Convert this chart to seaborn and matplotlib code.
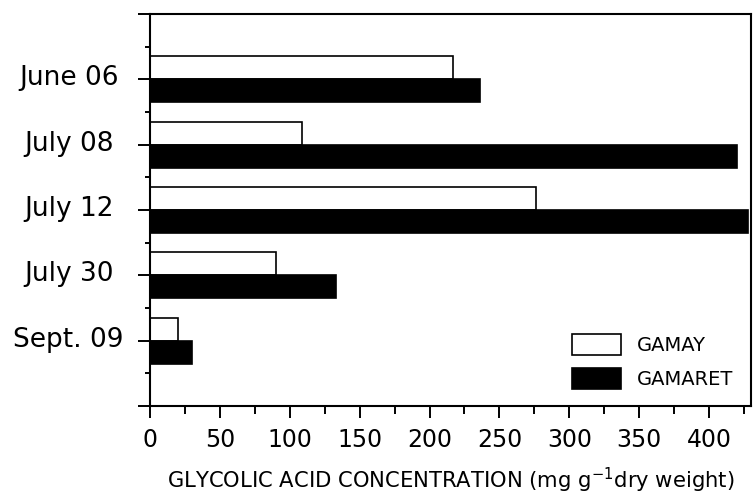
import matplotlib
matplotlib.use("Agg")
import matplotlib.pyplot as plt
import matplotlib.transforms as mtransforms
import seaborn as sns
import pandas as pd
import numpy as np
from matplotlib.ticker import MultipleLocator, FixedLocator

# Sampling dates and glycolic acid concentrations per cultivar
dates = ["June 06", "July 08", "July 12", "July 30", "Sept. 09"]
gamay = [217, 109, 276, 90, 20]
gamaret = [236, 420, 428, 133, 30]
cultivars = ["GAMAY", "GAMARET"]
x_ticks = [0, 50, 100, 150, 200, 250, 300, 350, 400]

df = pd.DataFrame({
    "date": dates * 2,
    "value": gamay + gamaret,
    "cultivar": [cultivars[0]] * len(dates) + [cultivars[1]] * len(dates),
})

sns.set_theme(style="ticks")
plt.rcParams["font.family"] = ["DejaVu Sans"]
plt.rcParams["text.color"] = "black"
plt.rcParams["axes.labelcolor"] = "black"

fig = plt.figure(figsize=(7.55, 4.94), dpi=100)
ax = fig.add_axes([150 / 755, 1 - 406 / 494, 601 / 755, 392 / 494])

sns.barplot(
    data=df, x="value", y="date", hue="cultivar", orient="h",
    order=dates, hue_order=cultivars,
    palette={"GAMAY": "white", "GAMARET": "black"},
    edgecolor="black", linewidth=1.2, width=0.7, saturation=1,
    errorbar=None, ax=ax,
)

ax.set_xlim(0, 430)
ax.set_ylim(5, -1)

# x axis: labelled every 50, minor marks in between
ax.xaxis.set_major_locator(FixedLocator(x_ticks))
ax.xaxis.set_minor_locator(MultipleLocator(25))
ax.set_xticklabels([str(t) for t in x_ticks], fontsize=17, color="black")

# y axis: one long tick per date plus the two ends, short ticks halfway
ax.yaxis.set_major_locator(FixedLocator(np.arange(-1, 6)))
ax.set_yticklabels([""] + dates + [""], fontsize=19, color="black")
ax.yaxis.set_minor_locator(FixedLocator(np.arange(-0.5, 5.0, 1.0)))

ax.tick_params(axis="both", which="major", direction="out", length=8.6,
               width=1.4, color="black")
ax.tick_params(axis="x", which="major", pad=7)
ax.tick_params(axis="x", which="minor", direction="out", length=5.5,
               width=1.4, color="black")
ax.tick_params(axis="y", which="minor", direction="out", length=3.8,
               width=1.4, color="black")
ax.tick_params(axis="y", which="major", pad=50)
lift = mtransforms.ScaledTranslation(0, 4 / 100, fig.dpi_scale_trans)
for lab in ax.get_yticklabels():
    lab.set_horizontalalignment("center")
    lab.set_transform(lab.get_transform() + lift)

for side in ["top", "bottom", "left", "right"]:
    ax.spines[side].set_visible(True)
    ax.spines[side].set_linewidth(1.5)
    ax.spines[side].set_color("black")

ax.set_ylabel("")
ax.set_xlabel("GLYCOLIC ACID CONCENTRATION (mg g$^{-1}$dry weight)",
              fontsize=15.2, color="black", labelpad=10)

handles, labels = ax.get_legend_handles_labels()
ax.legend(handles, labels, loc="upper left",
          bbox_to_anchor=(572 / 755, 1 - 334 / 494),
          bbox_transform=fig.transFigure,
          frameon=False, fontsize=14, handlelength=2.5, handleheight=1.25,
          handletextpad=0.85, labelspacing=0.7, borderpad=0, borderaxespad=0,
          labelcolor="black")

fig.savefig("out.png", dpi=100, facecolor="white")
